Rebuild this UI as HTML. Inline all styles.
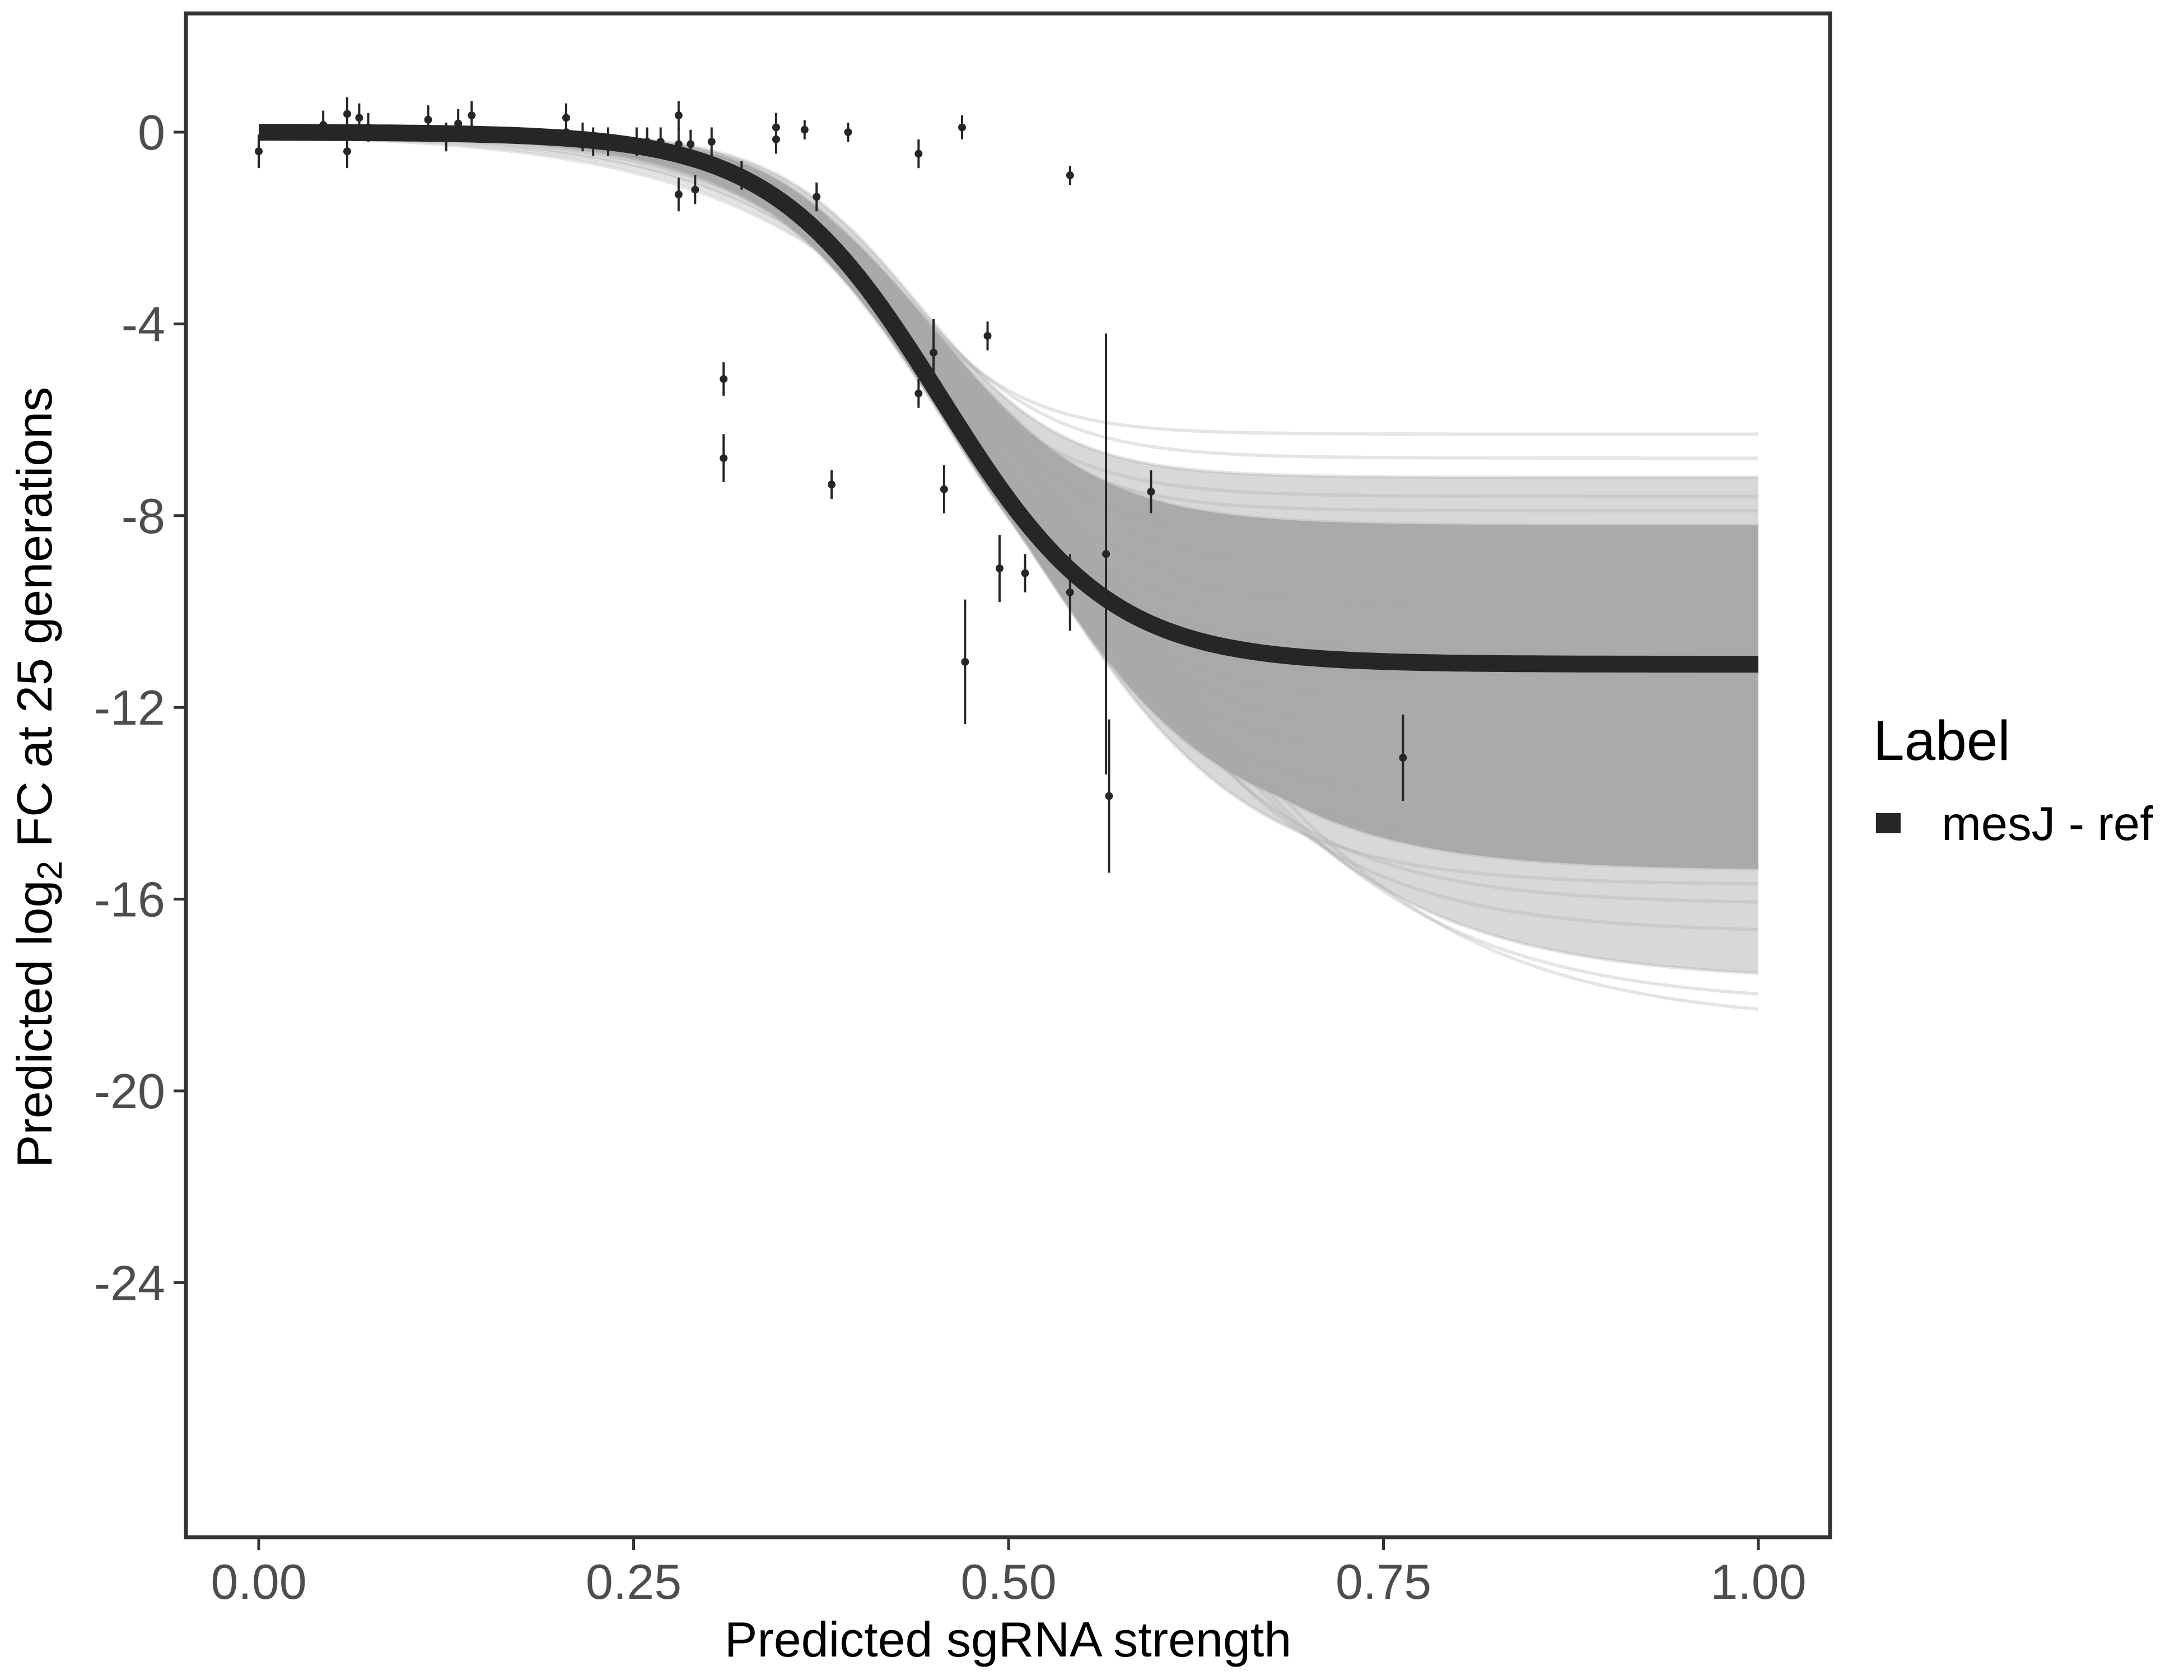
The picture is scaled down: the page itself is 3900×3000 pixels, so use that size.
<!DOCTYPE html>
<html><head><meta charset="utf-8"><style>
html,body{margin:0;padding:0;background:#fff;}
svg{display:block;font-family:"Liberation Sans",Arial,sans-serif;}
</style></head><body>
<svg id="chart" width="3900" height="3000" viewBox="0 0 3900 3000" xmlns="http://www.w3.org/2000/svg">
<g id="band"></g>
<g id="draws"></g>
<g id="mainline"></g>
<g id="points"></g>
<rect x="332" y="24" width="2936" height="2721" fill="none" stroke="#333" stroke-width="7"/>
<g id="axes"></g>
<text x="1800" y="2958" text-anchor="middle" font-size="88" fill="#000">Predicted sgRNA strength</text>
<text transform="translate(92,1388) rotate(-90)" text-anchor="middle" font-size="88" fill="#000">Predicted  log<tspan font-size="62" dy="18">2</tspan><tspan dy="-18"> FC at 25 generations</tspan></text>
<g>
<text x="3345" y="1357" font-size="100" fill="#000">Label</text>
<rect x="3350" y="1452" width="44" height="36" fill="#262626"/>
<text x="3467" y="1500" font-size="85" fill="#000">mesJ - ref</text>
</g>
</svg>
<script>
const xTicks=[0,0.25,0.5,0.75,1];
const xTickLabels=["0.00","0.25","0.50","0.75","1.00"];
const yTicks=[0,-4,-8,-12,-16,-20,-24];
const yTickLabels=["0","-4","-8","-12","-16","-20","-24"];
// fitted curve params
const fitA=-11.1, fitMid=0.455, fitScale=0.056;
// posterior draws: asymptote, midpoint, scale
const drawA=[-6.3,-6.8,-7.2,-7.6,-7.9,-8.2,-8.5,-8.8,-9.0,-9.3,-9.5,-9.8,-10.0,-10.2,-10.5,-10.7,-10.9,-11.1,-11.3,-11.5,-11.8,-12.0,-12.3,-12.5,-12.8,-13.0,-13.3,-13.6,-13.9,-14.2,-14.5,-14.8,-15.1,-15.4,-15.7,-16.1,-16.7,-17.7,-18.2,-18.6];
const drawMid=[0.42,0.43,0.44,0.43,0.44,0.45,0.44,0.45,0.45,0.46,0.44,0.45,0.46,0.45,0.46,0.45,0.46,0.46,0.45,0.47,0.46,0.47,0.46,0.47,0.48,0.47,0.48,0.49,0.48,0.49,0.50,0.49,0.50,0.51,0.50,0.52,0.53,0.55,0.56,0.57];
const drawScale=[0.045,0.05,0.048,0.052,0.05,0.055,0.053,0.056,0.05,0.058,0.055,0.052,0.06,0.056,0.058,0.054,0.06,0.057,0.055,0.062,0.058,0.06,0.064,0.062,0.066,0.063,0.068,0.07,0.067,0.072,0.074,0.071,0.076,0.078,0.075,0.08,0.085,0.095,0.1,0.105];
// data points
const ptX=[0,0.043,0.059,0.059,0.067,0.073,0.113,0.125,0.133,0.142,0.205,0.205,0.216,0.223,0.233,0.252,0.259,0.268,0.28,0.28,0.28,0.288,0.291,0.302,0.322,0.31,0.31,0.345,0.345,0.364,0.372,0.382,0.393,0.44,0.44,0.45,0.457,0.469,0.471,0.486,0.494,0.511,0.541,0.541,0.565,0.567,0.595,0.763];
const ptY=[-0.4,0.15,0.38,-0.4,0.3,0.1,0.26,-0.1,0.18,0.35,0.3,0,-0.1,-0.2,-0.2,-0.2,-0.2,-0.2,0.35,-0.25,-1.3,-0.25,-1.2,-0.2,-0.9,-5.15,-6.8,0.1,-0.15,0.05,-1.35,-7.35,0,-0.45,-5.45,-4.6,-7.45,0.1,-11.05,-4.25,-9.1,-9.2,-0.9,-9.6,-8.8,-13.85,-7.5,-13.05];
const ptErr=[0.35,0.3,0.35,0.35,0.3,0.3,0.3,0.3,0.3,0.3,0.3,0.3,0.3,0.3,0.3,0.3,0.3,0.3,0.3,0.35,0.35,0.3,0.3,0.3,0.3,0.35,0.5,0.3,0.3,0.2,0.3,0.3,0.2,0.3,0.3,0.7,0.5,0.25,1.3,0.3,0.7,0.4,0.2,0.8,4.6,1.6,0.45,0.9];

const NS="http://www.w3.org/2000/svg";
const X0=462,X1=3140,Y0=236,PU=85.6;
const sx=v=>X0+(X1-X0)*v;
const sy=v=>Y0-v*PU;
function mk(tag,attrs,parent){const e=document.createElementNS(NS,tag);for(const k in attrs)e.setAttribute(k,attrs[k]);parent.appendChild(e);return e;}
const f=(A,m,s,x)=>A/(1+Math.exp(-(x-m)/s));
function curve(A,m,s){let d="";for(let i=0;i<=200;i++){const x=i/200;d+=(i?"L":"M")+sx(x).toFixed(1)+","+sy(f(A,m,s,x)).toFixed(1);}return d;}
// band envelope from inner draws
function envelope(lo,hi,color,op){
 let top=[],bot=[];
 for(let i=0;i<=200;i++){const x=i/200;let mn=1e9,mx=-1e9;
  for(let k=lo;k<=hi;k++){const y=f(drawA[k],drawMid[k],drawScale[k],x);mn=Math.min(mn,y);mx=Math.max(mx,y);}
  top.push(sx(x).toFixed(1)+","+sy(mx).toFixed(1));bot.push(sx(x).toFixed(1)+","+sy(mn).toFixed(1));}
 const p=mk('polygon',{points:top.concat(bot.reverse()).join(" "),fill:color,'fill-opacity':op},document.getElementById('band'));
 
 
}
envelope(2,37,'#d8d8d8',1);
envelope(5,33,'#aaaaaa',1);
const gD=document.getElementById('draws');
for(let i=0;i<drawA.length;i++){
 const p=mk('path',{d:curve(drawA[i],drawMid[i],drawScale[i]),fill:'none',stroke:'#a8a8a8','stroke-opacity':0.3,'stroke-width':6},gD);
 
 
}
const gM=document.getElementById('mainline');
const ml=mk('path',{d:curve(fitA,fitMid,fitScale),fill:'none',stroke:'#262626','stroke-width':30},gM);


const gP=document.getElementById('points');
for(let i=0;i<ptX.length;i++){
 const l=mk('line',{x1:sx(ptX[i]),x2:sx(ptX[i]),y1:sy(ptY[i]+ptErr[i]),y2:sy(ptY[i]-ptErr[i]),stroke:'#262626','stroke-width':4},gP);
 
 
 const c=mk('circle',{cx:sx(ptX[i]),cy:sy(ptY[i]),r:7,fill:'#262626'},gP);
 
 
}
const gA=document.getElementById('axes');
xTicks.forEach((v,i)=>{
 const t=mk('line',{x1:sx(v),x2:sx(v),y1:2748,y2:2768,stroke:'#333','stroke-width':5},gA);
 
 
 const l=mk('text',{x:sx(v),y:2855,'text-anchor':'middle','font-size':88,fill:'#4d4d4d'},gA);
 l.textContent=xTickLabels[i];
 
 
});
yTicks.forEach((v,i)=>{
 const t=mk('line',{x1:310,x2:330,y1:sy(v),y2:sy(v),stroke:'#333','stroke-width':5},gA);
 
 
 const l=mk('text',{x:295,y:sy(v)+31,'text-anchor':'end','font-size':88,fill:'#4d4d4d'},gA);
 l.textContent=yTickLabels[i];
 
 
});
</script>
</body></html>
